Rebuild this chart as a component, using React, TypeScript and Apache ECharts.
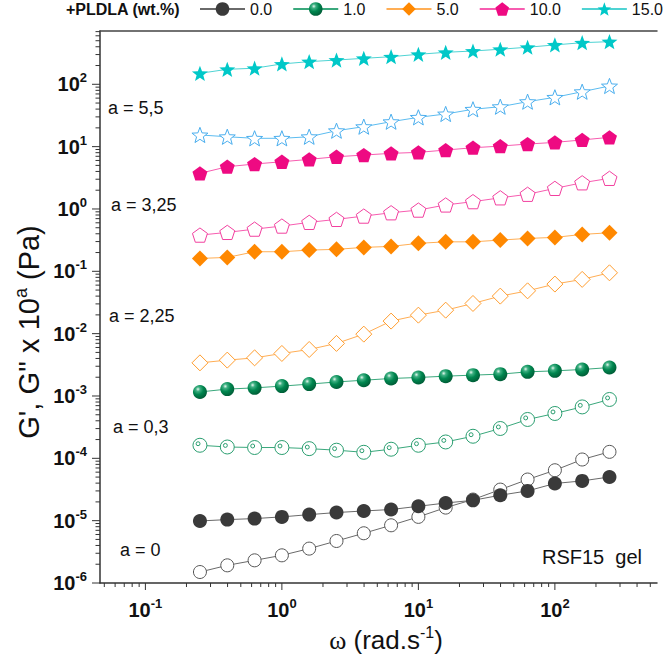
import React, { useEffect, useRef } from 'react';
import * as echarts from 'echarts';

const FONT = '"Liberation Sans", Arial, Helvetica, sans-serif';

// angular frequency (rad/s)
const omega = [0.251, 0.398, 0.631, 1.0, 1.585, 2.512, 3.981, 6.31, 10.0, 15.85, 25.12, 39.81, 63.1, 100, 158.5, 251.2];

// 15.0 wt.%  (a = 5.5)
const gp15 = [150, 174, 181, 212, 231, 245, 261, 277, 303, 326, 342, 365, 393, 428, 465, 483];
const gpp15 = [15.4, 14.4, 13.6, 13.6, 14.4, 18.0, 20.9, 25.1, 29.5, 33.4, 39.7, 43.7, 52.6, 61.8, 76.0, 94.0];
// 10.0 wt.%  (a = 3.25)
const gp10 = [3.73, 4.76, 5.26, 5.72, 6.25, 6.88, 7.33, 7.8, 8.09, 8.81, 9.6, 10.2, 11.0, 11.7, 12.8, 14.1];
const gpp10 = [0.381, 0.421, 0.475, 0.532, 0.61, 0.681, 0.769, 0.869, 0.96, 1.16, 1.31, 1.51, 1.72, 2.14, 2.63, 3.1];
// 5.0 wt.%  (a = 2.25)
const gp5 = [0.161, 0.167, 0.206, 0.206, 0.219, 0.225, 0.242, 0.251, 0.281, 0.297, 0.297, 0.317, 0.337, 0.35, 0.391, 0.415];
const gpp5 = [0.0034, 0.00376, 0.00409, 0.00481, 0.00557, 0.00697, 0.00982, 0.0159, 0.0198, 0.0238, 0.0305, 0.04, 0.0486, 0.0624, 0.0742, 0.0946];
// 1.0 wt.%  (a = 0.3)
const gp1 = [0.00116, 0.00129, 0.00135, 0.00144, 0.00155, 0.00168, 0.00179, 0.00191, 0.00198, 0.00208, 0.00216, 0.00224, 0.00244, 0.00253, 0.00266, 0.00286];
const gpp1 = [1.62e-4, 1.52e-4, 1.49e-4, 1.49e-4, 1.43e-4, 1.35e-4, 1.25e-4, 1.4e-4, 1.62e-4, 1.83e-4, 2.26e-4, 3.01e-4, 4.2e-4, 5.24e-4, 6.68e-4, 8.79e-4];
// 0.0 wt.%  (a = 0)
const gp0 = [9.89e-6, 1.04e-5, 1.08e-5, 1.15e-5, 1.25e-5, 1.35e-5, 1.43e-5, 1.51e-5, 1.7e-5, 1.92e-5, 2.12e-5, 2.56e-5, 3.0e-5, 3.95e-5, 4.34e-5, 5.02e-5];
const gpp0 = [1.5e-6, 1.92e-6, 2.31e-6, 2.78e-6, 3.56e-6, 4.72e-6, 6.28e-6, 8.43e-6, 1.15e-5, 1.62e-5, 2.18e-5, 3.15e-5, 4.57e-5, 6.44e-5, 9.57e-5, 1.27e-4];

const legendNames = ['0.0', '1.0', '5.0', '10.0', '15.0'];
const shiftLabels = ['a = 5,5', 'a = 3,25', 'a = 2,25', 'a = 0,3', 'a = 0'];
const sampleLabel = 'RSF15  gel';

const X_MIN = 0.0465;
const X_MAX = 560;
const Y_MIN = 1e-6;
const Y_MAX = 716;
const decadesX = [0.01, 0.1, 1, 10, 100];
const decadesY = [1e-6, 1e-5, 1e-4, 1e-3, 1e-2, 1e-1, 1, 10, 100];
const minorMult = [2, 3, 4, 5, 6, 7, 8, 9];

const STAR =
  'path://M0,-1L0.247,-0.34L0.951,-0.309L0.399,0.13L0.588,0.809L0,0.42L-0.588,0.809L-0.399,0.13L-0.951,-0.309L-0.247,-0.34Z';
const PENTA = 'path://M0,-1L0.951,-0.309L0.588,0.809L-0.588,0.809L-0.951,-0.309Z';
const RINGDOT =
  'path://M-1,0A1,1,0,1,1,1,0A1,1,0,1,1,-1,0ZM-0.55,-0.22A0.27,0.27,0,1,1,0.01,-0.22A0.27,0.27,0,1,1,-0.55,-0.22Z';

function buildTicks(decades: number[], lo: number, hi: number) {
  const major: number[] = [];
  const minor: number[] = [];
  decades.forEach((d) => {
    if (d >= lo * 0.999 && d <= hi) major.push(d);
    minorMult.forEach((m) => {
      const v = d * m;
      if (v > lo && v < hi) minor.push(v);
    });
  });
  return { major, minor };
}

const pow10Label = (v: number) => {
  const l = Math.log10(v);
  const e = Math.round(l);
  if (Math.abs(l - e) > 1e-3) return '';
  return '{b|10}{s|' + e + '}';
};

const labelRich = {
  b: { fontSize: 20, fontWeight: 'bold', fontFamily: FONT, color: '#111', lineHeight: 26, verticalAlign: 'middle' },
  s: { fontSize: 13, fontWeight: 'bold', fontFamily: FONT, color: '#111', lineHeight: 14, verticalAlign: 'top' },
};

export default function App() {
  const ref = useRef<HTMLDivElement>(null);

  useEffect(() => {
    if (!ref.current) return;
    const chart = echarts.init(ref.current, undefined, { renderer: 'svg' });

    const xt = buildTicks(decadesX, X_MIN, X_MAX);
    const yt = buildTicks(decadesY, Y_MIN, Y_MAX);

    const pair = (arr: number[]) => omega.map((x, i) => [x, arr[i]]);

    const sphere = new echarts.graphic.RadialGradient(0.36, 0.3, 0.7, [
      { offset: 0, color: '#e6f7ee' },
      { offset: 0.22, color: '#3fb083' },
      { offset: 0.55, color: '#00864f' },
      { offset: 1, color: '#005f38' },
    ]);

    const mk = (name: string, arr: number[], o: any) => ({
      name,
      type: 'line',
      data: pair(arr),
      symbol: o.symbol,
      symbolSize: o.size,
      symbolKeepAspect: true,
      showAllSymbol: true,
      lineStyle: { color: o.line, width: 1 },
      itemStyle: o.item,
      z: o.z || 3,
      emphasis: { disabled: true },
    });

    const series: any[] = [
      mk('0.0 G"', gpp0, { symbol: 'circle', size: 13, line: '#6a6a6a', item: { color: '#ffffff', borderColor: '#555555', borderWidth: 1 } }),
      mk('0.0', gp0, { symbol: 'circle', size: 14, line: '#6a6a6a', item: { color: '#3a3a3a' } }),
      mk('1.0 G"', gpp1, { symbol: RINGDOT, size: 14, line: '#3aa87c', item: { color: '#ffffff', borderColor: '#2a9e70', borderWidth: 1 } }),
      mk('1.0', gp1, { symbol: 'circle', size: 14, line: '#3aa87c', item: { color: sphere } }),
      mk('5.0 G"', gpp5, { symbol: 'diamond', size: 16, line: '#ffae55', item: { color: '#ffffff', borderColor: '#ff9d2e', borderWidth: 1 } }),
      mk('5.0', gp5, { symbol: 'diamond', size: 16, line: '#ffae55', item: { color: '#ff8800' } }),
      mk('10.0 G"', gpp10, { symbol: PENTA, size: 15, line: '#f75cb0', item: { color: '#ffffff', borderColor: '#f2409f', borderWidth: 1 } }),
      mk('10.0', gp10, { symbol: PENTA, size: 15, line: '#f75cb0', item: { color: '#ee0a82' } }),
      mk('15.0 G"', gpp15, { symbol: STAR, size: 16, line: '#5cbcf0', item: { color: '#ffffff', borderColor: '#4aaeee', borderWidth: 1 } }),
      mk('15.0', gp15, { symbol: STAR, size: 16, line: '#4fd3d3', item: { color: '#00c8c8' } }),
      {
        type: 'custom',
        silent: true,
        clip: false,
        z: 6,
        xAxisIndex: 0,
        yAxisIndex: 0,
        renderItem: (_p: any, api: any) => {
          const p = api.coord([api.value(0), Y_MIN]);
          const len = api.value(2);
          return { type: 'line', shape: { x1: p[0], y1: p[1], x2: p[0], y2: p[1] + len }, style: { stroke: '#333', lineWidth: 1 } };
        },
        data: [...xt.major.map((v) => [v, Y_MIN, 7]), ...xt.minor.map((v) => [v, Y_MIN, 4])],
      },
      {
        type: 'custom',
        silent: true,
        clip: false,
        z: 6,
        xAxisIndex: 0,
        yAxisIndex: 0,
        renderItem: (_p: any, api: any) => {
          const p = api.coord([X_MIN, api.value(1)]);
          const len = api.value(2);
          return { type: 'line', shape: { x1: p[0] - len, y1: p[1], x2: p[0], y2: p[1] }, style: { stroke: '#333', lineWidth: 1 } };
        },
        data: [...yt.major.map((v) => [X_MIN, v, 8]), ...yt.minor.map((v) => [X_MIN, v, 4.5])],
      },
    ];

    const txt = (text: string, x: number, y: number, size: number, extra: any = {}) => ({
      type: 'text',
      x,
      y,
      silent: true,
      z: 10,
      style: { text, fontSize: size, fontFamily: FONT, fill: '#111', align: 'left', verticalAlign: 'middle', ...extra },
    });

    chart.setOption({
      animation: false,
      backgroundColor: '#ffffff',
      grid: { left: 100, right: 7, top: 31, bottom: 73 },
      legend: {
        left: 199,
        top: 1,
        width: 465,
        itemWidth: 45,
        itemHeight: 17,
        itemGap: 20,
        padding: 0,
        data: legendNames,
        selectedMode: false,
        lineStyle: { width: 2 },
        textStyle: { fontSize: 16, fontFamily: FONT, color: '#111' },
      },
      xAxis: [
        {
          type: 'log',
          min: X_MIN,
          max: X_MAX,
          position: 'bottom',
          axisLine: { show: true, lineStyle: { color: '#333', width: 1.5 } },
          axisTick: { show: false },
          splitLine: { show: false },
          axisLabel: { formatter: pow10Label, rich: labelRich, margin: 14 },
        },
        {
          type: 'log',
          min: X_MIN,
          max: X_MAX,
          position: 'top',
          axisLine: { show: true, onZero: false, lineStyle: { color: '#444', width: 1.5 } },
          axisTick: { show: false },
          axisLabel: { show: false },
          splitLine: { show: false },
        },
      ],
      yAxis: {
        type: 'log',
        min: Y_MIN,
        max: Y_MAX,
        axisLine: { show: true, lineStyle: { color: '#333', width: 1.5 } },
        axisTick: { show: false },
        splitLine: { show: false },
        axisLabel: { formatter: pow10Label, rich: labelRich, margin: 13 },
      },
      graphic: [
        {
          type: 'text',
          left: 66,
          top: 1,
          silent: true,
          z: 10,
          style: { text: '+PLDLA (wt.%)', fontSize: 16, fontWeight: 'bold', fontFamily: FONT, fill: '#111' },
        },
        txt(shiftLabels[0], 108, 108, 18),
        txt(shiftLabels[1], 111, 205, 18),
        txt(shiftLabels[2], 109, 316, 18),
        txt(shiftLabels[3], 113, 427, 18),
        txt(shiftLabels[4], 120, 550, 18),
        txt(sampleLabel, 542, 557, 20),
        {
          type: 'text',
          x: 386,
          y: 640,
          silent: true,
          style: {
            text: '{w|ω} (rad.s{s|-1})',
            fontSize: 26,
            fontFamily: FONT,
            fill: '#111',
            align: 'center',
            verticalAlign: 'middle',
            lineHeight: 32,
            rich: {
              w: { fontSize: 26, fontFamily: '"Liberation Serif", "Times New Roman", serif', lineHeight: 32, verticalAlign: 'middle' },
              s: { fontSize: 16, fontFamily: FONT, lineHeight: 16, verticalAlign: 'top' },
            },
          },
        },
        {
          type: 'text',
          x: 29,
          y: 332,
          rotation: Math.PI / 2,
          silent: true,
          style: {
            text: "G', G'' x 10{s|a} (Pa)",
            fontSize: 29,
            fontFamily: FONT,
            fill: '#111',
            align: 'center',
            verticalAlign: 'middle',
            lineHeight: 34,
            rich: {
              s: { fontSize: 18, fontFamily: FONT, lineHeight: 18, verticalAlign: 'top' },
            },
          },
        },
      ],
      series,
    });

    return () => chart.dispose();
  }, []);

  return <div ref={ref} style={{ position: 'fixed', left: 0, top: 0, width: 664, height: 656, background: '#fff' }} />;
}
